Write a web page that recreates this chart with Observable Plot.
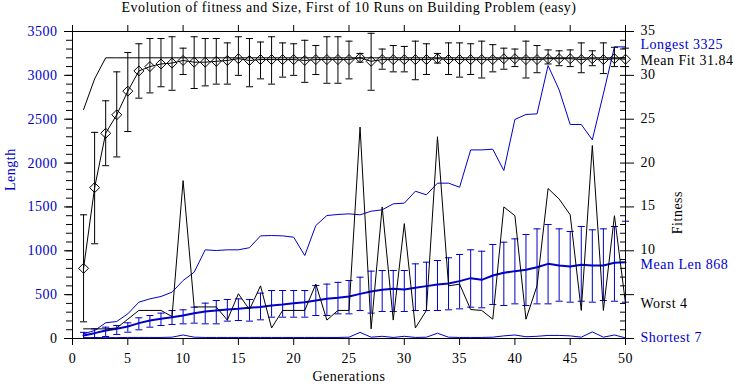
<!DOCTYPE html>
<html><head><meta charset="utf-8">
<script src="https://cdn.jsdelivr.net/npm/d3@7"></script>
<script src="https://cdn.jsdelivr.net/npm/@observablehq/plot@0.6"></script>
<style>body{margin:0;background:#fff}</style>
</head><body><div id="chart"></div>
<script>
const title = "Evolution of fitness and Size, First of 10 Runs on Building Problem (easy)";
const generations = d3.range(1, 51);
// Fitness series (right axis, fitness units)
const meanFit = [8.0,17.2,23.4,25.5,28.2,30.5,31.0,31.3,31.4,31.7,31.5,31.5,31.6,31.7,31.9,31.7,31.8,31.8,31.8,31.8,31.7,31.8,31.8,31.8,31.8,32.0,31.6,31.8,31.8,31.8,31.8,31.8,31.9,31.8,31.8,31.8,31.8,31.8,31.9,31.9,31.8,31.8,31.9,31.9,31.9,31.8,31.9,31.8,31.9,31.84];
const fitLo = [1.9,10.8,19.7,20.7,23.6,27.4,28.0,28.7,28.3,30.1,28.5,28.8,29.0,29.0,30.0,28.7,29.6,29.0,29.8,30.0,29.2,30.1,29.1,29.1,29.6,31.5,28.3,30.7,30.4,30.4,29.5,30.1,31.4,30.1,29.8,30.1,29.7,30.4,30.7,31.0,29.7,30.3,31.3,31.1,31.0,30.3,31.1,30.2,31.0,31.0];
const fitHi = [14.1,23.5,27.1,30.4,32.6,33.6,34.2,34.2,34.4,33.1,34.4,34.2,34.2,33.7,34.4,34.2,33.8,34.4,33.7,33.6,34.0,33.4,34.4,34.4,33.9,32.5,34.8,33.0,33.4,33.3,33.9,33.6,32.5,33.7,33.7,33.6,33.9,33.5,33.1,33.0,33.9,33.4,32.9,32.8,32.9,33.7,32.8,33.7,33.2,33.1];
const bestFit = [26.1,29.6,32,32,32,32,32,32,32,32,32,32,32,32,32,32,32,32,32,32,32,32,32,32,32,32,32,32,32,32,32,32,32,32,32,32,32,32,32,32,32,32,32,32,32,32,32,32,32,32];
const worstFit = [1.1,1.1,1.1,1.2,2.2,3.2,3.2,3.2,2.5,18.0,3.6,3.6,3.6,2.1,5.1,3.3,6.0,1.2,3.2,3.2,3.2,6.2,2.1,3.2,3.2,24.1,1.1,15.0,2.1,13.1,1.2,3.2,23.0,6.0,6.2,3.3,3.2,2.2,15.0,14.0,2.2,6.0,17.1,15.9,14.1,3.2,22.0,3.2,14.0,4];
// Length series (left axis)
const longest = [53,91,179,194,281,414,452,479,528,661,756,1011,1003,1011,1011,1035,1170,1174,1170,1155,946,1288,1402,1414,1421,1410,1451,1467,1535,1543,1679,1638,1771,1771,1725,2150,2150,2158,1915,2497,2554,2561,3112,2835,2440,2440,2265,2790,3325,3325];
const meanLen = [34,61,91,110,137,175,205,224,243,262,289,308,319,331,338,350,360,376,388,403,414,433,452,464,479,509,536,555,566,559,578,597,616,627,654,688,669,718,749,768,783,813,851,832,821,840,832,832,863,868];
const lenLo = [0,10,23,46,72,99,129,148,160,167,175,167,167,198,205,198,213,243,243,243,243,262,262,281,281,319,289,308,308,308,319,319,319,327,338,357,350,388,376,395,376,395,395,425,414,425,414,433,425,414];
const lenHi = [70,110,129,148,179,236,262,289,319,327,357,403,433,445,452,445,517,547,547,547,547,604,620,640,661,699,768,775,775,775,851,870,889,920,958,1011,995,1072,1098,1136,1186,1250,1300,1250,1220,1277,1239,1250,1277,1337];
const shortest = [10,10,10,10,12,12,12,12,15,40,15,12,12,12,12,12,12,12,12,12,12,12,12,12,15,70,15,25,12,25,12,15,60,15,12,12,12,15,30,40,20,25,35,35,30,15,75,15,40,7];
// Tick labels
const xTicks = d3.range(0, 51, 5);
const lengthTicks = d3.range(0, 3501, 500);
const fitnessTickLabels = [10, 15, 20, 25, 30, 35];
const FIT_SCALE = 100; // fitness 35 shares the position of length 3500

const blue = "#0000c8";
const rows = generations.map((g, i) => ({
  g,
  meanFit: meanFit[i] * FIT_SCALE, fitLo: fitLo[i] * FIT_SCALE, fitHi: fitHi[i] * FIT_SCALE,
  best: bestFit[i] * FIT_SCALE, worst: worstFit[i] * FIT_SCALE,
  longest: longest[i], meanLen: meanLen[i], lenLo: lenLo[i], lenHi: lenHi[i], shortest: shortest[i]
}));
const last = generations.length - 1;
const endLabels = [
  {text: `Longest ${longest[last]}`, y: longest[last], color: blue, dy: -2},
  {text: `Mean Fit ${meanFit[last]}`, y: meanFit[last] * FIT_SCALE, color: "black", dy: 1},
  {text: `Mean Len ${meanLen[last]}`, y: meanLen[last], color: blue, dy: 2},
  {text: `Worst ${worstFit[last]}`, y: worstFit[last] * FIT_SCALE, color: "black", dy: 0},
  {text: `Shortest ${shortest[last]}`, y: shortest[last], color: blue, dy: 0}
];
const cap = {draw(ctx, size) { const w = Math.sqrt(size); ctx.moveTo(-w, 0); ctx.lineTo(w, 0); }};
const minor = d3.range(0, 3501, 100);
const noText = () => "";
const plain = d => String(d);

const chart = Plot.plot({
  width: 740, height: 384,
  marginLeft: 72, marginRight: 115, marginTop: 31, marginBottom: 46,
  style: {fontFamily: "'Liberation Serif', serif", fontSize: "14px", letterSpacing: "0.5px", background: "white", color: "black"},
  x: {domain: [0, 50]},
  y: {domain: [0, 3500]},
  marks: [
    Plot.line(rows, {x: "g", y: "longest", stroke: blue, strokeWidth: 1}),
    Plot.line(rows, {x: "g", y: "shortest", stroke: blue, strokeWidth: 1}),
    Plot.ruleX(rows, {x: "g", y1: "lenLo", y2: "lenHi", stroke: blue, strokeWidth: 1}),
    Plot.dot(rows, {x: "g", y: "lenLo", symbol: cap, r: 2, stroke: blue, fill: "none", strokeWidth: 1}),
    Plot.dot(rows, {x: "g", y: "lenHi", symbol: cap, r: 2, stroke: blue, fill: "none", strokeWidth: 1}),
    Plot.line(rows, {x: "g", y: "meanLen", stroke: blue, strokeWidth: 2}),
    Plot.line(rows, {x: "g", y: "worst", stroke: "black", strokeWidth: 1}),
    Plot.line(rows, {x: "g", y: "best", stroke: "black", strokeWidth: 1}),
    Plot.ruleX(rows, {x: "g", y1: "fitLo", y2: "fitHi", stroke: "black", strokeWidth: 1}),
    Plot.dot(rows, {x: "g", y: "fitLo", symbol: cap, r: 2, stroke: "black", fill: "none", strokeWidth: 1}),
    Plot.dot(rows, {x: "g", y: "fitHi", symbol: cap, r: 2, stroke: "black", fill: "none", strokeWidth: 1}),
    Plot.line(rows, {x: "g", y: "meanFit", stroke: "black", strokeWidth: 1}),
    Plot.dot(rows, {x: "g", y: "meanFit", symbol: "diamond2", r: 4.5, stroke: "black", fill: "none", strokeWidth: 1}),
    Plot.frame({stroke: "black"}),
    Plot.axisX({anchor: "bottom", ticks: xTicks, tickSize: 7, tickPadding: 8, tickFormat: plain, label: null}),
    Plot.axisX({anchor: "top", ticks: xTicks, tickSize: 7, tickFormat: noText, label: null}),
    Plot.axisY({anchor: "left", ticks: minor, tickSize: 6, tickFormat: noText, label: null}),
    Plot.axisY({anchor: "left", ticks: lengthTicks.filter(d => d > 0), tickSize: 8, tickPadding: 7, tickFormat: plain, fill: blue, label: null}),
    Plot.axisY({anchor: "left", ticks: [0], tickSize: 8, tickPadding: 7, tickFormat: plain, label: null}),
    Plot.axisY({anchor: "right", ticks: minor, tickSize: 6, dx: -6, tickFormat: noText, label: null}),
    Plot.axisY({anchor: "right", ticks: lengthTicks, tickSize: 8, tickFormat: noText, label: null}),
    Plot.axisY({anchor: "right", ticks: fitnessTickLabels.map(f => f * FIT_SCALE), tickSize: 0, tickPadding: 15, dy: -1, tickFormat: d => String(d / FIT_SCALE), label: null}),
    ...endLabels.map(l => Plot.text([l], {x: () => 50, y: "y", text: "text", fill: l.color, dx: 15, dy: l.dy, textAnchor: "start"})),
    Plot.text([title], {frameAnchor: "top", dy: -29, text: d => d}),
    Plot.text(["Generations"], {frameAnchor: "bottom", dy: 42, text: d => d}),
    Plot.text(["Length"], {frameAnchor: "left", dx: -62, dy: 6, rotate: -90, fill: blue, text: d => d}),
    Plot.text(["Fitness"], {frameAnchor: "right", dx: 52, dy: 6, rotate: -90, text: d => d})
  ]
});
document.getElementById("chart").appendChild(chart);
</script>
</body></html>
